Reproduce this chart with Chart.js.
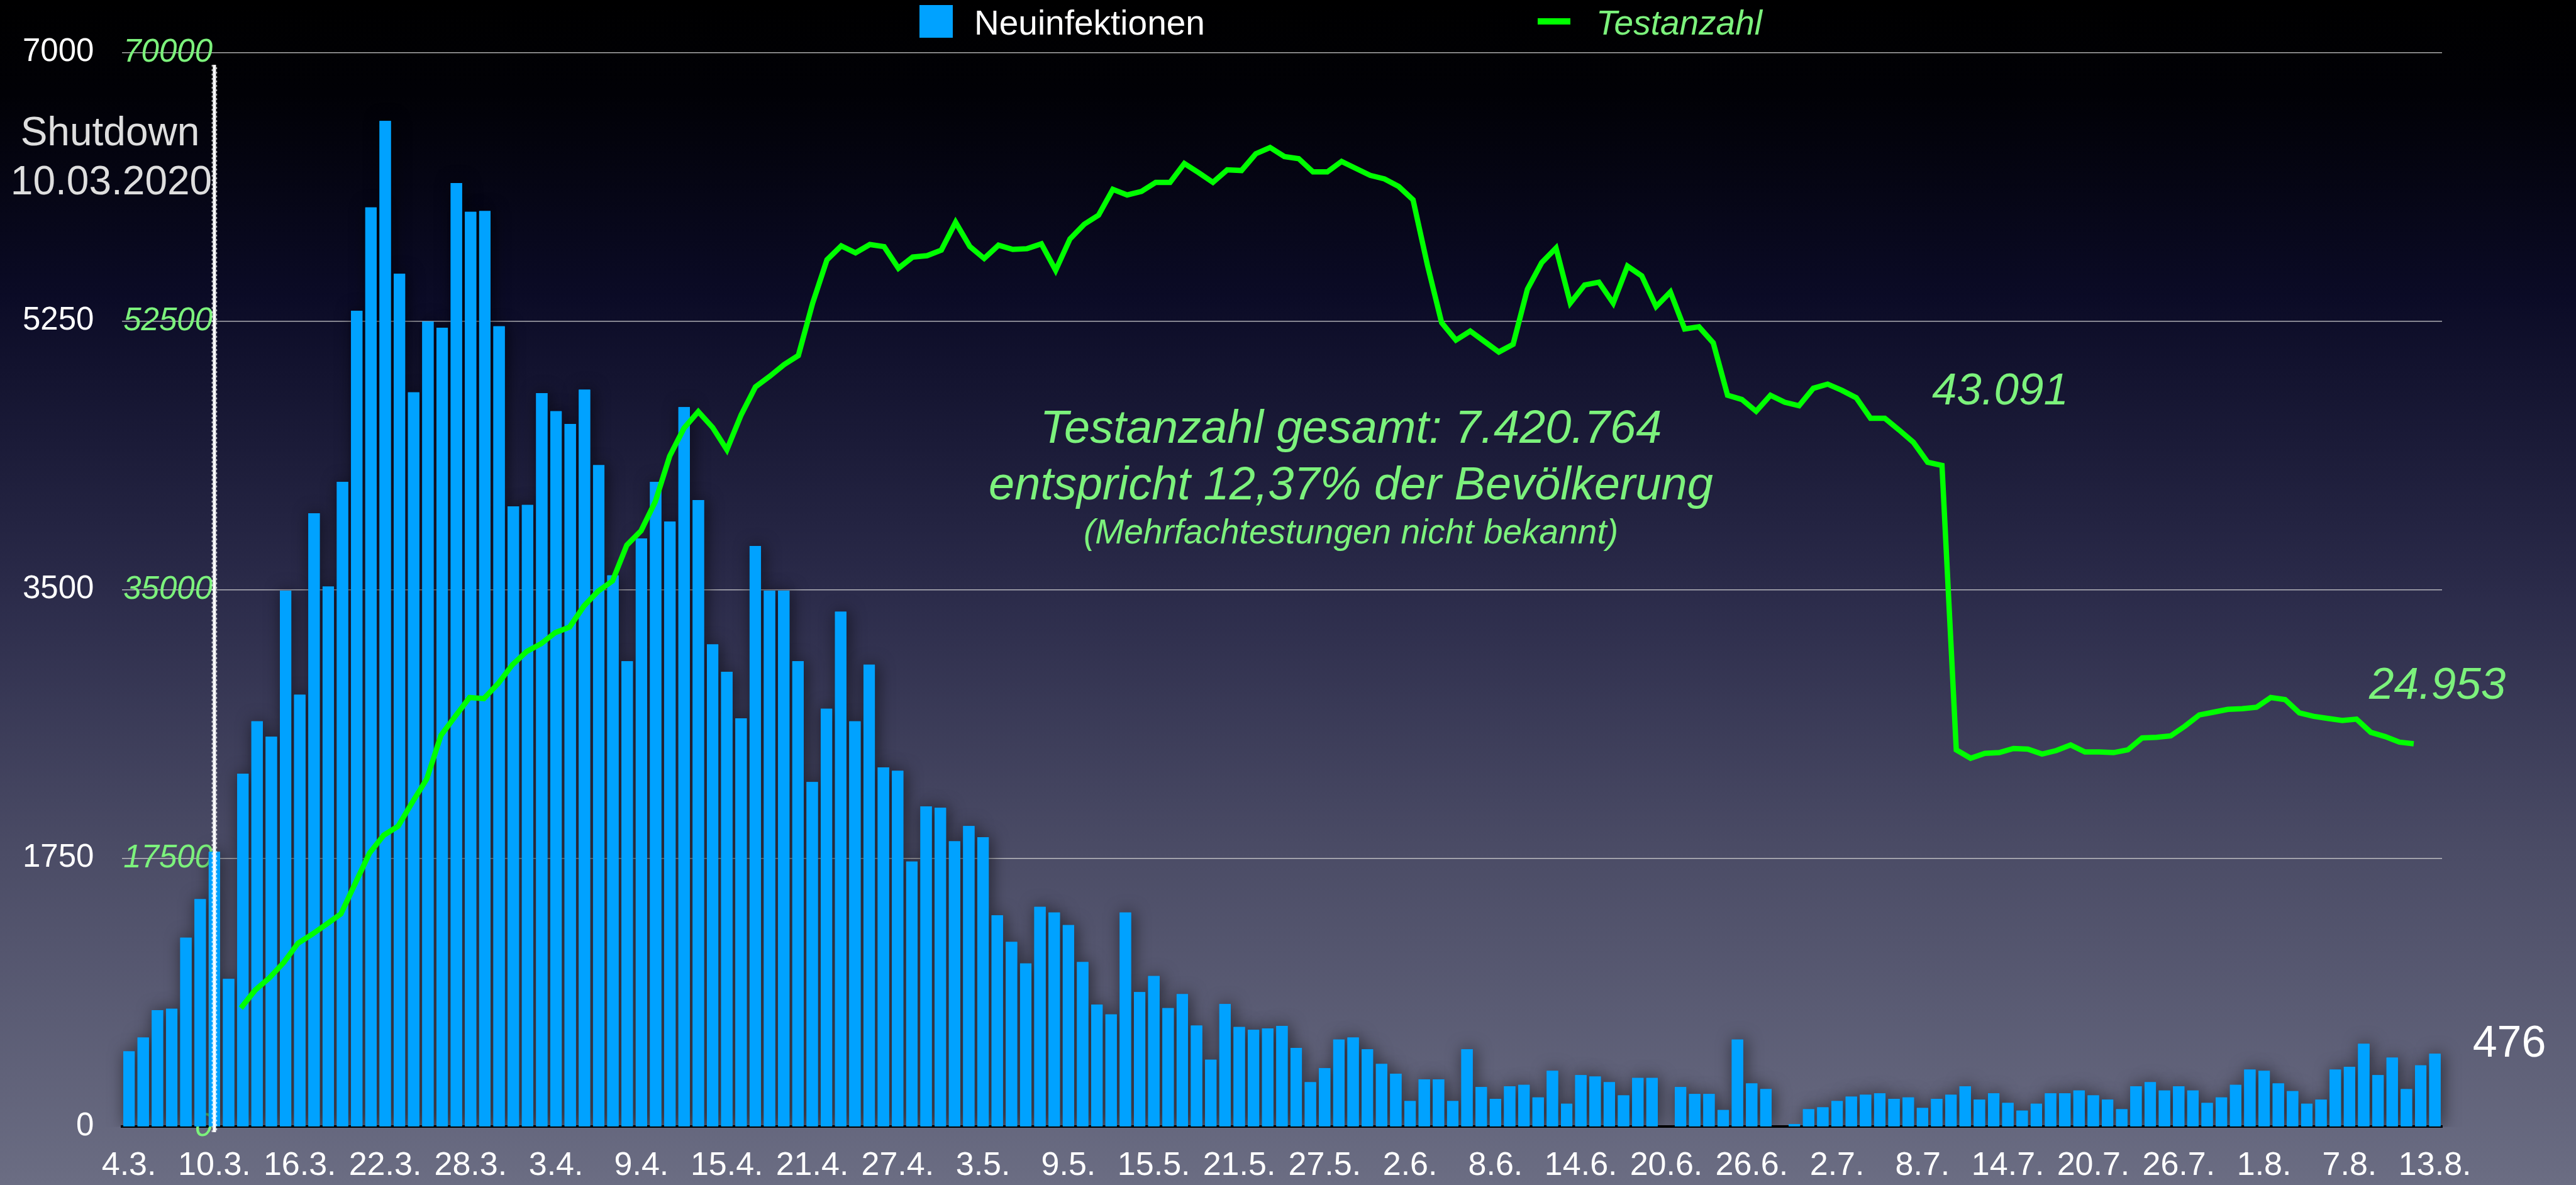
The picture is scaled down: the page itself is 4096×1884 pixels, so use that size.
<!DOCTYPE html>
<html>
<head>
<meta charset="utf-8">
<title>Neuinfektionen und Testanzahl</title>
<script src="https://cdn.jsdelivr.net/npm/chart.js@4.4.1/dist/chart.umd.min.js"></script>
<style>
  html, body { margin: 0; padding: 0; background: #000; overflow: hidden; }
  #wrap { width: 4096px; height: 1884px; position: relative; }
</style>
</head>
<body>
<div id="wrap"><canvas id="myChart"></canvas></div>
<script>
// Tage 4.3. bis 13.8.2020
const tage = [
  "4.3.", "5.3.", "6.3.", "7.3.", "8.3.", "9.3.", "10.3.", "11.3.", "12.3.", "13.3.", "14.3.", "15.3.", "16.3.", "17.3.",
  "18.3.", "19.3.", "20.3.", "21.3.", "22.3.", "23.3.", "24.3.", "25.3.", "26.3.", "27.3.", "28.3.", "29.3.", "30.3.", "31.3.",
  "1.4.", "2.4.", "3.4.", "4.4.", "5.4.", "6.4.", "7.4.", "8.4.", "9.4.", "10.4.", "11.4.", "12.4.", "13.4.", "14.4.", "15.4.",
  "16.4.", "17.4.", "18.4.", "19.4.", "20.4.", "21.4.", "22.4.", "23.4.", "24.4.", "25.4.", "26.4.", "27.4.", "28.4.", "29.4.", "30.4.",
  "1.5.", "2.5.", "3.5.", "4.5.", "5.5.", "6.5.", "7.5.", "8.5.", "9.5.", "10.5.", "11.5.", "12.5.", "13.5.", "14.5.", "15.5.", "16.5.",
  "17.5.", "18.5.", "19.5.", "20.5.", "21.5.", "22.5.", "23.5.", "24.5.", "25.5.", "26.5.", "27.5.", "28.5.", "29.5.", "30.5.", "31.5.",
  "1.6.", "2.6.", "3.6.", "4.6.", "5.6.", "6.6.", "7.6.", "8.6.", "9.6.", "10.6.", "11.6.", "12.6.", "13.6.", "14.6.", "15.6.",
  "16.6.", "17.6.", "18.6.", "19.6.", "20.6.", "21.6.", "22.6.", "23.6.", "24.6.", "25.6.", "26.6.", "27.6.", "28.6.", "29.6.", "30.6.",
  "1.7.", "2.7.", "3.7.", "4.7.", "5.7.", "6.7.", "7.7.", "8.7.", "9.7.", "10.7.", "11.7.", "12.7.", "13.7.", "14.7.", "15.7.", "16.7.",
  "17.7.", "18.7.", "19.7.", "20.7.", "21.7.", "22.7.", "23.7.", "24.7.", "25.7.", "26.7.", "27.7.", "28.7.", "29.7.", "30.7.", "31.7.",
  "1.8.", "2.8.", "3.8.", "4.8.", "5.8.", "6.8.", "7.8.", "8.8.", "9.8.", "10.8.", "11.8.", "12.8.", "13.8."
];

const tickTage = [
  "4.3.", "10.3.", "16.3.", "22.3.", "28.3.", "3.4.", "9.4.", "15.4.", "21.4.", "27.4.", "3.5.", "9.5.", "15.5.", "21.5.",
  "27.5.", "2.6.", "8.6.", "14.6.", "20.6.", "26.6.", "2.7.", "8.7.", "14.7.", "20.7.", "26.7.", "1.8.", "7.8.", "13.8."
];

const neuinfektionen = [
  491, 582, 760, 769, 1232, 1483, 1792, 964, 2301, 2642,
  2542, 3493, 2815, 3998, 3520, 4202, 5317, 5990, 6554, 5558,
  4785, 5248, 5207, 6149, 5962, 5967, 5216, 4043, 4052, 4780,
  4662, 4580, 4803, 4311, 3593, 3033, 3834, 4202, 3943, 4689,
  4084, 3143, 2965, 2661, 3784, 3493, 3493, 3033, 2247, 2724,
  3356, 2642, 3011, 2342, 2319, 1728, 2088, 2078, 1860, 1960,
  1887, 1378, 1205, 1064, 1433, 1396, 1314, 1073, 796, 732,
  1396, 878, 982, 773, 864, 659, 437, 800, 650, 632,
  641, 657, 514, 291, 382, 568, 582, 505, 409, 346,
  168, 309, 309, 168, 505, 259, 182, 264, 273, 191,
  364, 150, 337, 327, 291, 205, 318, 318, null, 259,
  214, 214, 109, 568, 282, 246, null, 18, 114, 127,
  168, 196, 209, 218, 182, 191, 123, 182, 209, 264,
  177, 218, 155, 105, 150, 218, 218, 236, 205, 177,
  114, 264, 291, 236, 264, 236, 155, 191, 273, 373,
  364, 282, 232, 150, 177, 373, 391, 541, 337, 450,
  246, 400, 476
];

const testanzahl = [
  null, null, null, null, null, null, null, null, 7732, 8900,
  9700, 10700, 11961, 12550, 13200, 13871, 15850, 17828, 19000, 19580,
  21148, 22650, 25500, 26750, 27970, 27900, 28880, 30108, 30970, 31470,
  32200, 32560, 33930, 34900, 35565, 37900, 38840, 40750, 43700, 45520,
  46600, 45571, 44116, 46390, 48209, 48900, 49664, 50255, 53666, 56486,
  57396, 56941, 57487, 57350, 55940, 56668, 56759, 57122, 58941, 57350,
  56577, 57441, 57168, 57214, 57532, 55804, 57851, 58806, 59397, 61080,
  60716, 60943, 61534, 61534, 62762, 62171, 61534, 62353, 62307, 63399,
  63808, 63217, 63080, 62217, 62217, 62899, 62444, 61990, 61762, 61262,
  60400, 56168, 52393, 51256, 51847, 51165, 50483, 50983, 54576, 56304,
  57259, 53666, 54849, 55031, 53666, 56077, 55440, 53439, 54394, 51984,
  52121, 51074, 47663, 47390, 46617, 47663, 47208, 46981, 48118, 48391,
  47981, 47500, 46162, 46162, 45400, 44600, 43300, 43091, 24559, 24013,
  24332, 24377, 24650, 24605, 24286, 24514, 24878, 24423, 24423, 24377,
  24559, 25332, 25378, 25469, 26106, 26833, 27015, 27197, 27243, 27333,
  27970, 27834, 26970, 26742, 26606, 26469, 26560, 25696, 25423, 25059,
  24953, null, null
];

const shutdownTag = "10.3.";
const letzterTestTag = 127;   // letzter Wert vor dem Einbruch
const schlussTestTag = 160;

const FONT = "'Liberation Sans', Arial, sans-serif";
const GREEN_TEXT = "#7cf27c";
const GREEN_LINE = "#00ff00";
const BLUE = "#00a2ff";

Chart.defaults.font.family = FONT;

const fmt = v => v.toLocaleString("de-DE");

const background = {
  id: "background",
  beforeDraw(chart) {
    const { ctx, width, height } = chart;
    const g = ctx.createLinearGradient(0, 0, 0, height);
    g.addColorStop(0, "#000000");
    g.addColorStop(0.08, "#010106");
    g.addColorStop(0.25, "#0b0b26");
    g.addColorStop(0.5, "#2b2b4a");
    g.addColorStop(0.72, "#4b4c66");
    g.addColorStop(1, "#6b6d83");
    ctx.save();
    ctx.fillStyle = g;
    ctx.fillRect(0, 0, width, height);
    ctx.restore();
  }
};

// soft shadow under the bars, painted first so the clean bars cover it
const barShadow = {
  id: "barShadow",
  beforeDatasetDraw(chart, args) {
    if (args.meta.type !== "bar") return;
    const ctx = chart.ctx;
    const a = chart.chartArea;
    const values = chart.data.datasets[args.index].data;
    ctx.save();
    ctx.beginPath();
    ctx.rect(a.left - 40, 0, a.right - a.left + 80, a.bottom);
    ctx.clip();
    ctx.shadowColor = "rgba(0, 0, 0, 0.6)";
    ctx.shadowBlur = 26;
    ctx.shadowOffsetX = 3;
    args.meta.data.forEach((bar, i) => {
      if (values[i] !== null) bar.draw(ctx);
    });
    ctx.restore();
  }
};

const overlay = {
  id: "overlay",
  afterDraw(chart) {
    const { ctx } = chart;
    const xs = chart.scales.x, ys = chart.scales.y;
    const xl = chart.scales.xLine, yl = chart.scales.y1;
    const [bars, line] = chart.data.datasets;
    ctx.save();

    // Shutdown-Markierung
    const sx = xs.getPixelForValue(tage.indexOf(shutdownTag));
    ctx.strokeStyle = "#ffffff";
    ctx.lineWidth = 5;
    ctx.beginPath();
    ctx.moveTo(sx, 103);
    ctx.lineTo(sx, 1800);
    ctx.stroke();
    ctx.lineWidth = 1.5;
    ctx.setLineDash([3, 4]);
    ctx.globalAlpha = 0.8;
    [-3.5, 3.5].forEach((dx, k) => {
      ctx.lineDashOffset = k * 3;
      ctx.beginPath();
      ctx.moveTo(sx + dx, 103);
      ctx.lineTo(sx + dx, 1800);
      ctx.stroke();
    });
    ctx.setLineDash([]);
    ctx.globalAlpha = 1;

    ctx.fillStyle = "#dedede";
    ctx.textAlign = "center";
    ctx.textBaseline = "alphabetic";
    ctx.font = `64px ${FONT}`;
    ctx.fillText("Shutdown", 175, 231);
    ctx.fillText("10.03.2020", 177, 309);

    // Legende
    ctx.textAlign = "left";
    ctx.fillStyle = bars.backgroundColor;
    ctx.fillRect(1462, 8, 53, 52);
    ctx.fillStyle = "#ffffff";
    ctx.font = `55px ${FONT}`;
    ctx.fillText(bars.label, 1549, 55);
    ctx.fillStyle = line.borderColor;
    ctx.fillRect(2445, 29, 52, 10);
    ctx.fillStyle = GREEN_TEXT;
    ctx.font = `italic 55px ${FONT}`;
    ctx.fillText(line.label, 2538, 55);

    // Gesamtzahl
    ctx.textAlign = "center";
    ctx.font = `italic 74px ${FONT}`;
    ctx.fillText("Testanzahl gesamt: 7.420.764", 2148, 704);
    ctx.fillText("entspricht 12,37% der Bevölkerung", 2148, 794);
    ctx.font = `italic 55px ${FONT}`;
    ctx.fillText("(Mehrfachtestungen nicht bekannt)", 2148, 864);

    // Werte an der Testkurve
    ctx.textAlign = "left";
    ctx.font = `italic 71px ${FONT}`;
    const v1 = testanzahl[letzterTestTag];
    ctx.fillText(fmt(v1), xl.getPixelForValue(letzterTestTag) - 16, yl.getPixelForValue(v1) - 97);
    const v2 = testanzahl[schlussTestTag];
    ctx.fillText(fmt(v2), xl.getPixelForValue(schlussTestTag) - 71, yl.getPixelForValue(v2) - 72);

    // letzter Tageswert
    const last = neuinfektionen.length - 1;
    ctx.fillStyle = "#ffffff";
    ctx.font = `70px ${FONT}`;
    ctx.fillText(fmt(neuinfektionen[last]), xs.getPixelForValue(last) + 60, ys.getPixelForValue(neuinfektionen[last]) + 5);

    ctx.restore();
  }
};

const config = {
  type: "bar",
  data: {
    labels: tage,
    datasets: [
      {
        type: "bar",
        label: "Neuinfektionen",
        data: neuinfektionen,
        xAxisID: "x",
        yAxisID: "y",
        backgroundColor: BLUE,
        grouped: false,
        categoryPercentage: 1,
        barPercentage: 0.8,
        order: 1
      },
      {
        type: "line",
        label: "Testanzahl",
        data: testanzahl.map((v, i) => ({ x: i, y: v })),
        xAxisID: "xLine",
        yAxisID: "y1",
        borderColor: GREEN_LINE,
        borderWidth: 8.5,
        borderJoinStyle: "miter",
        pointRadius: 0,
        tension: 0,
        order: 0
      }
    ]
  },
  options: {
    responsive: true,
    maintainAspectRatio: false,
    devicePixelRatio: 1,
    animation: false,
    layout: { padding: { top: 83.4, right: 213, bottom: 0, left: 0 } },
    plugins: {
      legend: { display: false },
      tooltip: { enabled: false }
    },
    scales: {
      x: {
        type: "category",
        offset: true,
        afterFit(s) { s.height = 1884 - 1791.4; },
        grid: { display: false, drawTicks: false },
        border: { display: true, color: "#000000", width: 4 },
        ticks: {
          autoSkip: false,
          maxRotation: 0,
          minRotation: 0,
          color: "#ffffff",
          font: { size: 52 },
          padding: 31,
          callback(v) {
            const t = this.getLabelForValue(v);
            return tickTage.includes(t) ? t : "";
          }
        }
      },
      // the test curve sits on its own, slightly wider day grid
      xLine: {
        type: "linear",
        display: false,
        offset: false,
        min: -0.321,
        max: 161.98
      },
      y: {
        position: "left",
        weight: 1,
        min: 0,
        max: 7000,
        afterFit(s) { s.width = 193.8; },
        ticks: {
          stepSize: 1750,
          color: "#ffffff",
          font: { size: 51 },
          padding: 44.4,
          callback: v => String(v)
        },
        grid: {
          drawTicks: false,
          lineWidth: 1.5,
          color: c => (c.tick && c.tick.value === 0) ? "rgba(0,0,0,0)" : "rgba(215,215,215,0.8)"
        },
        border: { display: false }
      },
      y1: {
        position: "left",
        weight: 0,
        min: 0,
        max: 70000,
        afterFit(s) { s.width = 0; },
        ticks: {
          stepSize: 17500,
          mirror: true,
          crossAlign: "far",
          padding: 2.4,
          color: GREEN_TEXT,
          font: { size: 51, style: "italic" },
          callback: v => String(v)
        },
        grid: { display: false, drawTicks: false },
        border: { display: false }
      }
    }
  },
  plugins: [background, barShadow, overlay]
};

const myChart = new Chart(document.getElementById("myChart"), config);
</script>
</body>
</html>
